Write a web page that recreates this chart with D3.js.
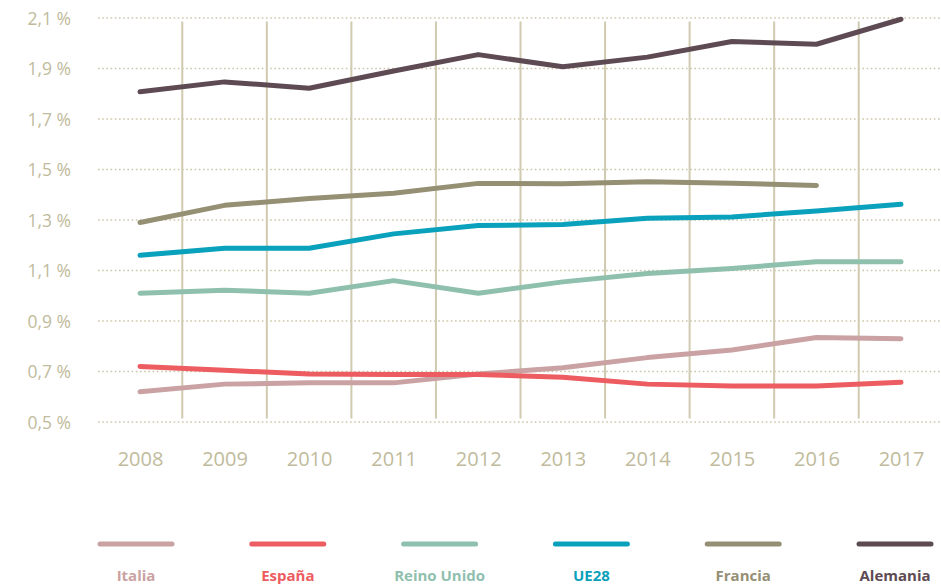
<!DOCTYPE html>
<html>
<head>
<meta charset="utf-8">
<script src="https://cdn.jsdelivr.net/npm/d3@7"></script>
<style>
  html, body { margin: 0; padding: 0; background: #ffffff; }
  svg { display: block; }
</style>
</head>
<body>
<svg id="chart" width="941" height="587"></svg>
<script>
// Years on the x axis
const years = [2008, 2009, 2010, 2011, 2012, 2013, 2014, 2015, 2016, 2017];
// Y axis ticks (percent)
const yTicks = [0.5, 0.7, 0.9, 1.1, 1.3, 1.5, 1.7, 1.9, 2.1];

// Series (percent of GDP); null where no value
const italia     = [0.62, 0.65, 0.655, 0.655, 0.69, 0.715, 0.755, 0.785, 0.835, 0.83];
const espana     = [0.72, 0.705, 0.69, 0.688, 0.688, 0.677, 0.65, 0.643, 0.643, 0.657];
const reinoUnido = [1.01, 1.022, 1.01, 1.06, 1.01, 1.055, 1.088, 1.108, 1.135, 1.135];
const ue28       = [1.16, 1.188, 1.188, 1.245, 1.278, 1.282, 1.307, 1.312, 1.336, 1.362];
const francia    = [1.29, 1.358, 1.385, 1.406, 1.445, 1.444, 1.451, 1.446, 1.437, null];
const alemania   = [1.808, 1.847, 1.822, 1.89, 1.955, 1.907, 1.945, 2.007, 1.996, 2.095];

const seriesNames  = ["Italia", "España", "Reino Unido", "UE28", "Francia", "Alemania"];
const seriesValues = [italia, espana, reinoUnido, ue28, francia, alemania];
const seriesColors = ["#caa2a3", "#ec5c60", "#8fc0ae", "#0aa1bc", "#958f74", "#5e4a53"];

const svg = d3.select("#chart");
const axisColor = "#bfbb9c";

const x = d3.scalePoint().domain(years).range([140, 901]);
const y = d3.scaleLinear().domain([0.5, 2.1]).range([422, 18]);
const step = x.step();

// Horizontal dotted gridlines
svg.append("g")
  .selectAll("line")
  .data(yTicks)
  .join("line")
  .attr("x1", 98)
  .attr("x2", 941)
  .attr("y1", d => y(d))
  .attr("y2", d => y(d))
  .attr("stroke", "#cbc6a8")
  .attr("stroke-width", 1.6)
  .attr("stroke-dasharray", "1.6,2.6");

// Vertical separators between years
svg.append("g")
  .selectAll("line")
  .data(years.slice(0, -1))
  .join("line")
  .attr("x1", d => x(d) + step / 2)
  .attr("x2", d => x(d) + step / 2)
  .attr("y1", 21.5)
  .attr("y2", 418.5)
  .attr("stroke", "#cfcab0")
  .attr("stroke-width", 2);

// Y axis labels
const yAxis = d3.axisLeft(y)
  .tickValues(yTicks)
  .tickSize(0)
  .tickPadding(0)
  .tickFormat(d => d3.format(".1f")(d).replace(".", ",") + " %");
svg.append("g")
  .attr("transform", "translate(71,0)")
  .call(yAxis)
  .call(g => g.select(".domain").remove())
  .call(g => g.selectAll("text")
    .attr("fill", axisColor)
    .attr("font-family", "'Open Sans', 'Noto Sans', sans-serif")
    .attr("font-size", 17.5)
    .attr("dy", "0.35em"));

// X axis labels
const xAxis = d3.axisBottom(x).tickSize(0).tickPadding(0).tickFormat(d3.format("d"));
svg.append("g")
  .attr("transform", "translate(0,459)")
  .call(xAxis)
  .call(g => g.select(".domain").remove())
  .call(g => g.selectAll("text")
    .attr("fill", axisColor)
    .attr("font-family", "'Open Sans', 'Noto Sans', sans-serif")
    .attr("font-size", 20)
    .attr("dy", "0.35em"));

// Series lines
const line = d3.line()
  .defined(d => d.v !== null)
  .x(d => x(d.year))
  .y(d => y(d.v));

svg.append("g")
  .selectAll("path")
  .data(seriesValues.map((vals, i) => ({
    color: seriesColors[i],
    pts: years.map((yr, j) => ({ year: yr, v: vals[j] }))
  })))
  .join("path")
  .attr("d", d => line(d.pts))
  .attr("fill", "none")
  .attr("stroke", d => d.color)
  .attr("stroke-width", 5)
  .attr("stroke-linecap", "round")
  .attr("stroke-linejoin", "round");

// Legend
const legendX = d3.scalePoint().domain(seriesNames).range([136, 895]);
const legend = svg.append("g")
  .selectAll("g")
  .data(seriesNames)
  .join("g")
  .attr("transform", d => `translate(${legendX(d)},0)`);

legend.append("line")
  .attr("x1", -36)
  .attr("x2", 36)
  .attr("y1", 544)
  .attr("y2", 544)
  .attr("stroke", (d, i) => seriesColors[i])
  .attr("stroke-width", 5)
  .attr("stroke-linecap", "round");

legend.append("text")
  .attr("x", 0)
  .attr("y", 576)
  .attr("dy", "0.35em")
  .attr("text-anchor", "middle")
  .attr("font-family", "'Open Sans', 'Noto Sans', sans-serif")
  .attr("font-weight", 700)
  .attr("font-size", 15)
  .attr("fill", (d, i) => seriesColors[i])
  .text(d => d);
</script>
</body>
</html>
